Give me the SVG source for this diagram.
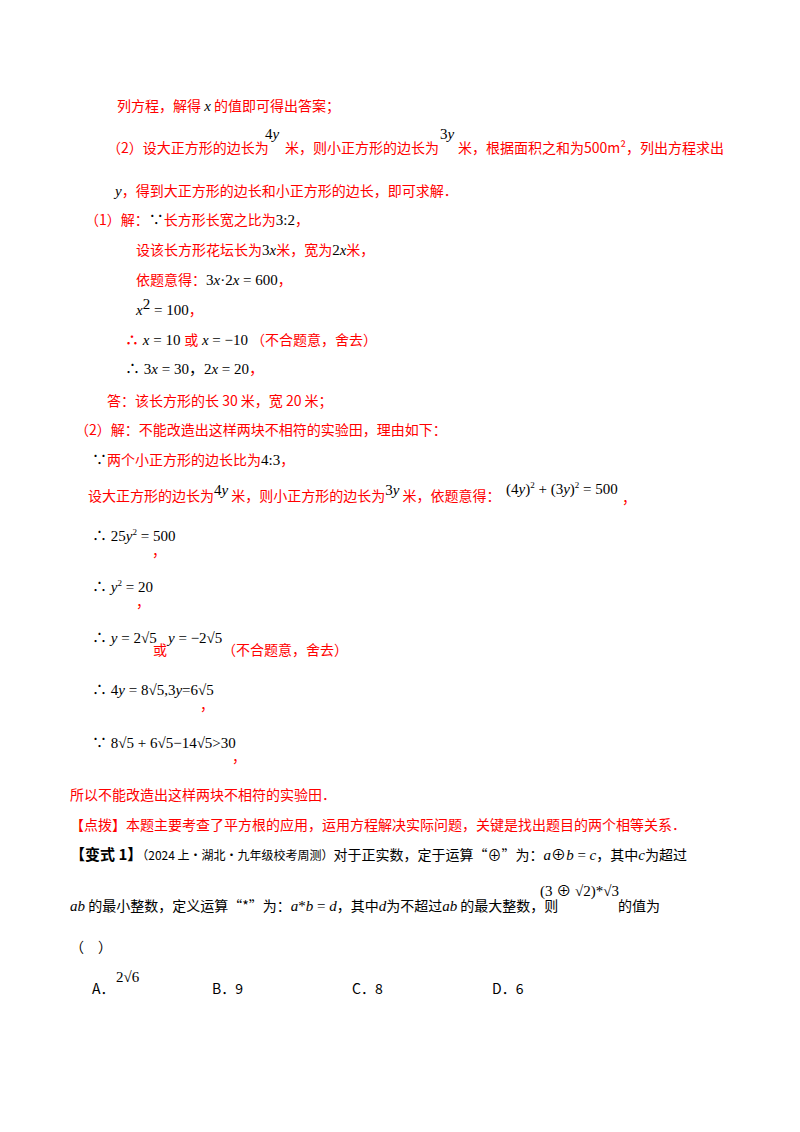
<svg xmlns="http://www.w3.org/2000/svg" width="800" height="1132" viewBox="0 0 800 1132">
<style>
text{font-family:"Noto Sans CJK SC","Noto Sans",sans-serif;font-size:14px;fill:#ff0000}
.m{font-family:"Liberation Serif","Noto Sans CJK SC",serif;font-size:15px;fill:#000;font-style:italic}
.n{font-style:normal}
.k{fill:#000}
.b{font-weight:bold}
</style>
<rect width="800" height="1132" fill="#fff"/>
<text x="117" y="111">列方程，解得 <tspan class="m">x</tspan> 的值即可得出答案；</text>
<text x="107" y="153">（2）设大正方形的边长为</text>
<text class="m" x="265" y="139"><tspan class="n">4</tspan>y</text>
<text x="285" y="153">米，则小正方形的边长为</text>
<text class="m" x="440" y="139"><tspan class="n">3</tspan>y</text>
<text x="458" y="153">米，根据面积之和为500m²，列出方程求出</text>
<text x="115" y="196"><tspan class="m">y</tspan>，得到大正方形的边长和小正方形的边长，即可求解．</text>
<text x="85" y="225">（1）解：<tspan class="m n">∵</tspan>长方形长宽之比为<tspan class="m n">3:2</tspan>，</text>
<text x="136" y="255">设该长方形花坛长为<tspan class="m n">3</tspan><tspan class="m">x</tspan>米，宽为<tspan class="m n">2</tspan><tspan class="m">x</tspan>米，</text>
<text x="136" y="285">依题意得：<tspan class="m n">3</tspan><tspan class="m">x</tspan><tspan class="m n">·2</tspan><tspan class="m">x</tspan><tspan class="m n"> = 600</tspan>，</text>
<text x="136" y="315"><tspan class="m">x</tspan><tspan class="m n" font-size="9" dy="-6">2</tspan><tspan class="m n" dy="6"> = 100</tspan>，</text>
<text x="125" y="345"><tspan font-weight="bold">∴</tspan><tspan class="m"> x</tspan><tspan class="m n"> = 10 </tspan>或<tspan class="m"> x</tspan><tspan class="m n"> = −10</tspan> （不合题意，舍去）</text>
<text x="125" y="374" class="m n">∴ 3<tspan font-style="italic">x</tspan> = 30，2<tspan font-style="italic">x</tspan> = 20<tspan fill="#ff0000">，</tspan></text>
<text x="107" y="406">答：该长方形的长 30 米，宽 20 米；</text>
<text x="75" y="435">（2）解：不能改造出这样两块不相符的实验田，理由如下：</text>
<text x="92" y="465"><tspan class="m n">∵</tspan>两个小正方形的边长比为<tspan class="m n">4:3</tspan>，</text>
<text x="88" y="501">设大正方形的边长为<tspan class="m n" dy="-6">4</tspan><tspan class="m">y</tspan><tspan dy="6"> 米，则小正方形的边长为</tspan><tspan class="m n" dy="-6">3</tspan><tspan class="m">y</tspan><tspan dy="6"> 米，依题意得：</tspan></text>
<text x="506" y="494" class="m n">(4<tspan font-style="italic">y</tspan>)<tspan font-size="9" dy="-6">2</tspan><tspan dy="6"> + (3</tspan><tspan font-style="italic">y</tspan>)<tspan font-size="9" dy="-6">2</tspan><tspan dy="6"> = 500</tspan></text>
<text x="622" y="503">，</text>
<text x="92" y="541" class="m n">∴ 25<tspan font-style="italic">y</tspan><tspan font-size="9" dy="-6">2</tspan><tspan dy="6"> = 500</tspan></text>
<text x="152" y="556">，</text>
<text x="92" y="592" class="m n">∴ <tspan font-style="italic">y</tspan><tspan font-size="9" dy="-6">2</tspan><tspan dy="6"> = 20</tspan></text>
<text x="136" y="607">，</text>
<text x="92" y="643" class="m n">∴ <tspan font-style="italic">y</tspan> = 2√5</text>
<text x="153" y="655">或</text>
<text x="168" y="643" class="m n"><tspan font-style="italic">y</tspan> = −2√5</text>
<text x="222" y="655">（不合题意，舍去）</text>
<text x="92" y="695" class="m n">∴ 4<tspan font-style="italic">y</tspan> = 8√5,3<tspan font-style="italic">y</tspan>=6√5</text>
<text x="200" y="710">，</text>
<text x="92" y="748" class="m n">∵ 8√5 + 6√5−14√5&gt;30</text>
<text x="232" y="762">，</text>
<text x="70" y="800">所以不能改造出这样两块不相符的实验田．</text>
<text x="70" y="830">【点拨】本题主要考查了平方根的应用，运用方程解决实际问题，关键是找出题目的两个相等关系．</text>
<g>
<text x="70" y="860" class="k"><tspan class="b" font-size="15">【变式 1】</tspan><tspan font-size="12">（2024 上·湖北·九年级校考周测）</tspan>对于正实数，定于运算“⊕”为：<tspan class="m">a</tspan><tspan class="m n">⊕</tspan><tspan class="m">b</tspan><tspan class="m n"> = </tspan><tspan class="m">c</tspan>，其中<tspan class="m">c</tspan>为超过</text>
<text x="70" y="911" class="k"><tspan class="m">ab</tspan> 的最小整数，定义运算“*”为：<tspan class="m">a</tspan><tspan class="m n">*</tspan><tspan class="m">b</tspan><tspan class="m n"> = </tspan><tspan class="m">d</tspan>，其中<tspan class="m" font-size="17">d</tspan>为不超过<tspan class="m">ab</tspan> 的最大整数，则</text>
<text x="618" y="911" class="k">的值为</text>
<text x="540" y="896" class="m n">(3 ⊕ √2)*√3</text>
<text x="70" y="952" class="k">（　）</text>
<text x="92" y="994" class="k">A．</text>
<text x="116" y="982" class="m n">2√6</text>
<text x="212" y="994" class="k">B．9</text>
<text x="352" y="994" class="k">C．8</text>
<text x="492" y="994" class="k">D．6</text>
</g>
</svg>
